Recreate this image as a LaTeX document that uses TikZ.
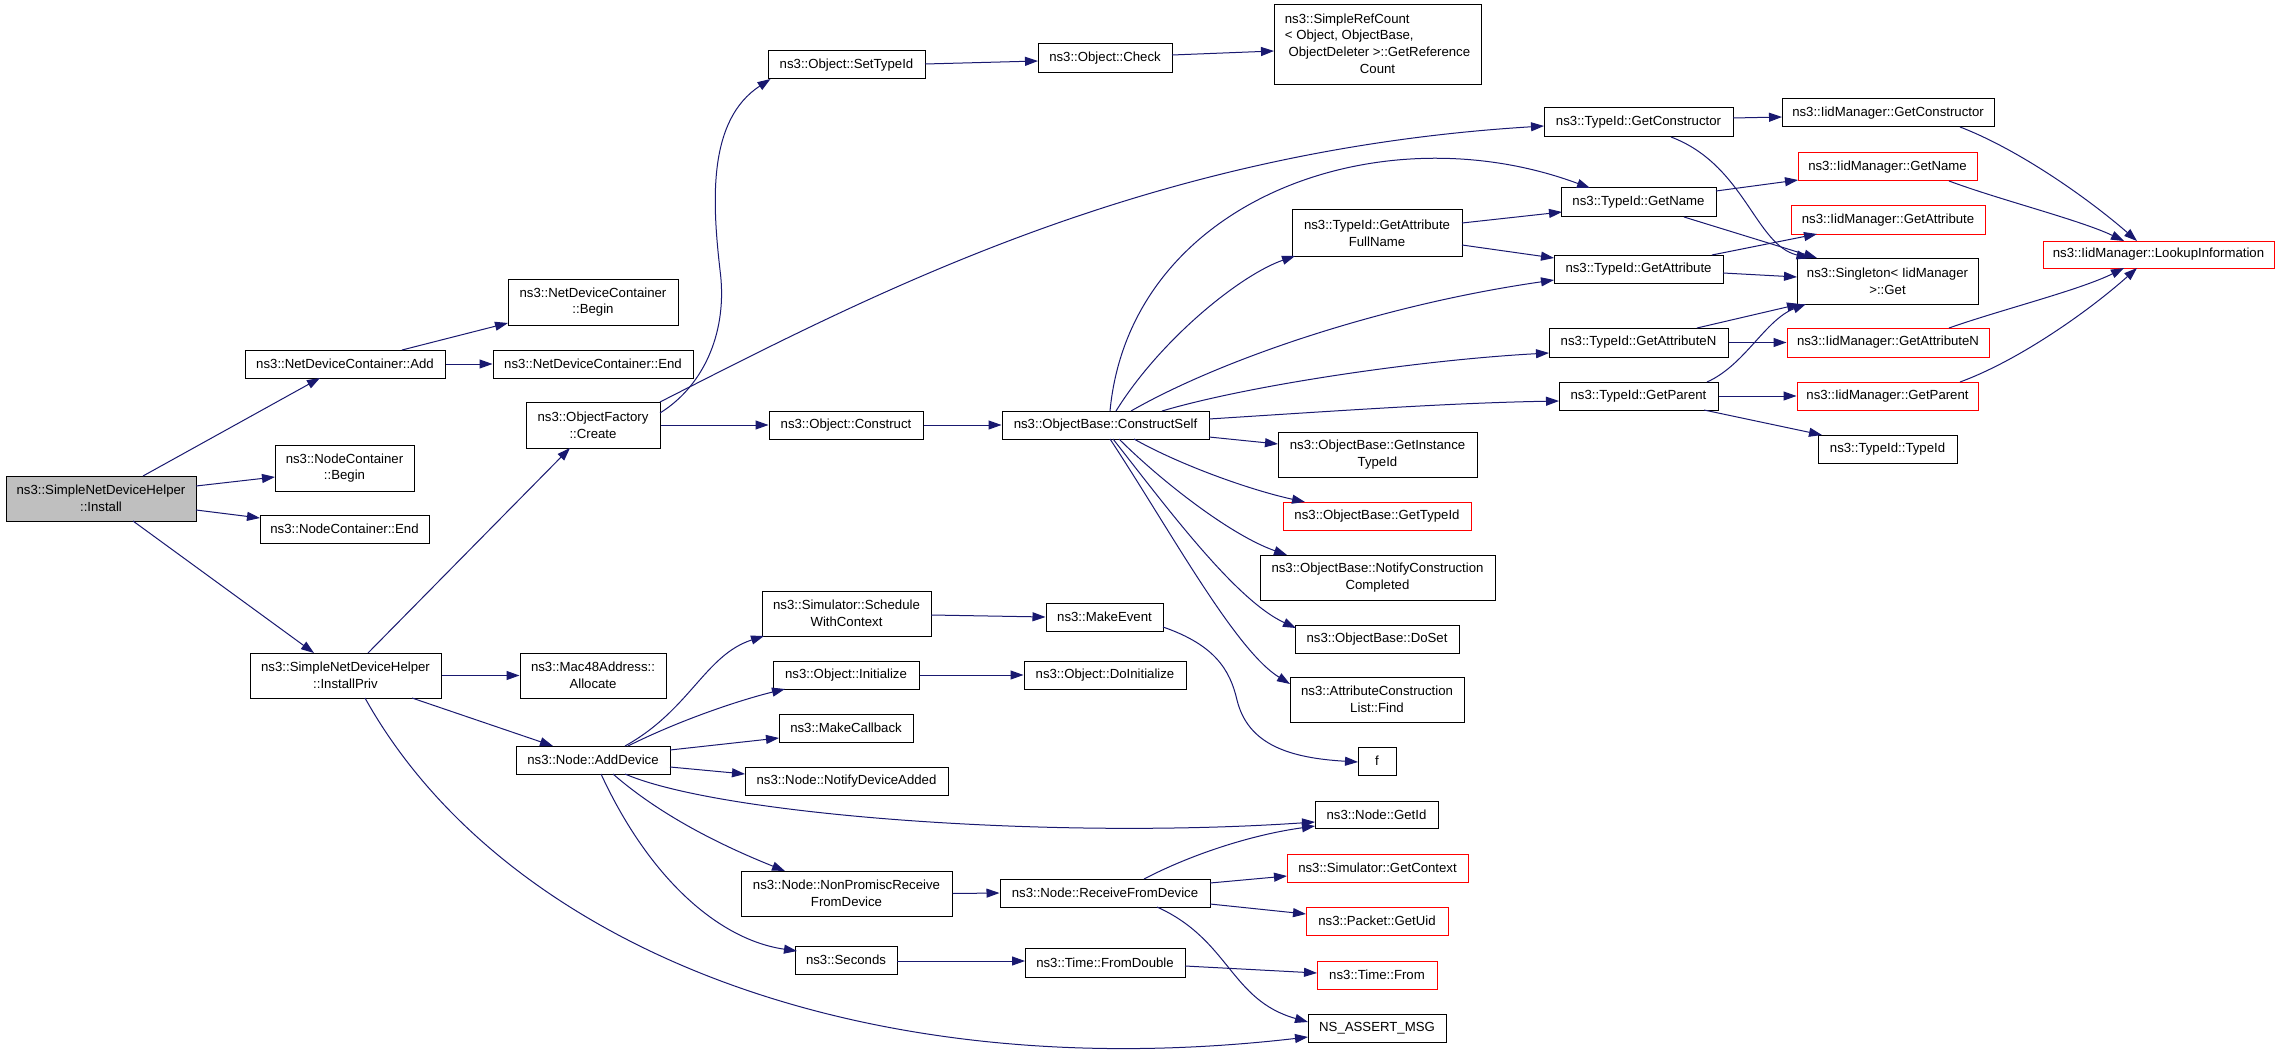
\documentclass[tikz,border=0pt]{standalone}
\usepackage{fontspec}
\setmainfont{Liberation Sans}
\usetikzlibrary{arrows.meta}
\definecolor{edgec}{HTML}{191970}
\definecolor{redc}{HTML}{FF0000}
\definecolor{fillg}{HTML}{BFBFBF}
\begin{document}
\begin{tikzpicture}[x=1pt,y=-1pt,
  fn/.style={draw=black, line width=1pt, fill=white, inner sep=0pt, align=center,
     font={\fontsize{13.2}{16.7}\selectfont}},
  rn/.style={fn, draw=redc},
  sz/.style 2 args={minimum width=#1pt, minimum height=#2pt},
  e/.style={draw=edgec, line width=1pt, -{Triangle[length=13pt,width=9pt]}}]
\fill[white] (0,0) rectangle (2280,1051);
\useasboundingbox (0,0) rectangle (2280,1051);

% column 1-3
\node[fn,fill=fillg,sz={190}{45}] (install) at (101,498.5) {ns3::SimpleNetDeviceHelper\\::Install};
\node[fn,sz={200}{28}] (add) at (345,364) {ns3::NetDeviceContainer::Add};
\node[fn,sz={170}{46}] (ndcbegin) at (593,302) {ns3::NetDeviceContainer\\::Begin};
\node[fn,sz={200}{28}] (ndcend) at (593,364) {ns3::NetDeviceContainer::End};
\node[fn,sz={134}{46}] (create) at (593,425) {ns3::ObjectFactory\\::Create};
\node[fn,sz={139}{46}] (ncbegin) at (344.5,468) {ns3::NodeContainer\\::Begin};
\node[fn,sz={169}{28}] (ncend) at (344.5,529) {ns3::NodeContainer::End};
\node[fn,sz={191}{45}] (installpriv) at (345.5,675.5) {ns3::SimpleNetDeviceHelper\\::InstallPriv};
\node[fn,sz={146}{45}] (mac) at (593,675.5) {ns3::Mac48Address::\\Allocate};
\node[fn,sz={154}{28}] (adddevice) at (593,760) {ns3::Node::AddDevice};
% column 4-6
\node[fn,sz={157}{28}] (settypeid) at (846.5,65) {ns3::Object::SetTypeId};
\node[fn,sz={134}{29}] (check) at (1105,58.5) {ns3::Object::Check};
\node[fn,sz={207}{80}] (simplerefcount) at (1377.5,45)
  {\begin{tabular}{@{}l@{}}ns3::SimpleRefCount\\< Object, ObjectBase,\\\ ObjectDeleter >::GetReference\\\multicolumn{1}{@{}c@{}}{Count}\end{tabular}};
\node[fn,sz={154}{28}] (construct) at (846,425) {ns3::Object::Construct};
\node[fn,sz={207}{28}] (constructself) at (1105.5,425) {ns3::ObjectBase::ConstructSelf};
\node[fn,sz={170}{46}] (fullname) at (1377,233) {ns3::TypeId::GetAttribute\\FullName};
\node[fn,sz={199}{45}] (getinstancetypeid) at (1377.5,454.5) {ns3::ObjectBase::GetInstance\\TypeId};
\node[rn,sz={188}{28}] (gettypeid) at (1377,516) {ns3::ObjectBase::GetTypeId};
\node[fn,sz={235}{45}] (notifyconstr) at (1377.5,577.5) {ns3::ObjectBase::NotifyConstruction\\Completed};
\node[fn,sz={164}{28}] (doset) at (1377,639) {ns3::ObjectBase::DoSet};
\node[fn,sz={174}{45}] (find) at (1377,699.5) {ns3::AttributeConstruction\\List::Find};
\node[fn,sz={169}{45}] (schedule) at (846.5,613.5) {ns3::Simulator::Schedule\\WithContext};
\node[fn,sz={117}{28}] (makeevent) at (1104.5,617) {ns3::MakeEvent};
\node[fn,sz={146}{28}] (initialize) at (846,675) {ns3::Object::Initialize};
\node[fn,sz={162}{28}] (doinitialize) at (1105,675) {ns3::Object::DoInitialize};
\node[fn,sz={134}{28}] (makecallback) at (846,728) {ns3::MakeCallback};
\node[fn,sz={38}{28}] (f) at (1377,761) {f};
\node[fn,sz={203}{28}] (notifyadded) at (846.5,781) {ns3::Node::NotifyDeviceAdded};
\node[fn,sz={123}{27}] (getid) at (1376.5,814.5) {ns3::Node::GetId};
\node[fn,sz={211}{45}] (nonpromisc) at (846.5,893.5) {ns3::Node::NonPromiscReceive\\FromDevice};
\node[fn,sz={210}{28}] (receive) at (1105,893) {ns3::Node::ReceiveFromDevice};
\node[rn,sz={181}{28}] (getcontext) at (1377.5,868) {ns3::Simulator::GetContext};
\node[rn,sz={142}{28}] (getuid) at (1377,921) {ns3::Packet::GetUid};
\node[fn,sz={102}{28}] (seconds) at (846,960) {ns3::Seconds};
\node[fn,sz={160}{29}] (fromdouble) at (1105,962.5) {ns3::Time::FromDouble};
\node[rn,sz={120}{28}] (timefrom) at (1377,975) {ns3::Time::From};
\node[fn,sz={138}{28}] (assert) at (1377,1028) {NS\_ASSERT\_MSG};
% column 7-9
\node[fn,sz={189}{29}] (tgetconstructor) at (1638.5,122.5) {ns3::TypeId::GetConstructor};
\node[fn,sz={212}{28}] (igetconstructor) at (1888,113) {ns3::IidManager::GetConstructor};
\node[rn,sz={179}{28}] (igetname) at (1887.5,167) {ns3::IidManager::GetName};
\node[fn,sz={155}{29}] (tgetname) at (1638.5,202.5) {ns3::TypeId::GetName};
\node[rn,sz={194}{28}] (igetattribute) at (1888,220) {ns3::IidManager::GetAttribute};
\node[rn,sz={231}{27}] (lookup) at (2158.5,254.5) {ns3::IidManager::LookupInformation};
\node[fn,sz={169}{28}] (tgetattribute) at (1638.5,269) {ns3::TypeId::GetAttribute};
\node[fn,sz={181}{46}] (singleton) at (1887.5,281) {ns3::Singleton< IidManager\\>::Get};
\node[fn,sz={179}{29}] (tgetattributen) at (1638.5,342.5) {ns3::TypeId::GetAttributeN};
\node[rn,sz={202}{29}] (igetattributen) at (1888,342.5) {ns3::IidManager::GetAttributeN};
\node[fn,sz={159}{28}] (tgetparent) at (1638.5,396) {ns3::TypeId::GetParent};
\node[rn,sz={181}{28}] (igetparent) at (1887.5,396) {ns3::IidManager::GetParent};
\node[fn,sz={139}{28}] (typeidtypeid) at (1887.5,449) {ns3::TypeId::TypeId};

% edges
\draw[e] ([shift={(42,-22.5)}]install.center) -- ([shift={(-25,14)}]add.center);
\draw[e] ([shift={(95,-12.5)}]install.center) -- ([shift={(-69.5,9)}]ncbegin.center);
\draw[e] ([shift={(95,11.5)}]install.center) -- ([shift={(-84.5,-11)}]ncend.center);
\draw[e] ([shift={(32,22.5)}]install.center) -- ([shift={(-31.5,-22.5)}]installpriv.center);
\draw[e] ([shift={(57,-14)}]add.center) -- ([shift={(-85,21)}]ndcbegin.center);
\draw[e] (add.east) -- (ndcend.west);
\draw[e] ([shift={(22.5,-22.5)}]installpriv.center) -- ([shift={(-23,23)}]create.center);
\draw[e] (installpriv.east) -- (mac.west);
\draw[e] ([shift={(66.5,22.5)}]installpriv.center) -- ([shift={(-40,-14)}]adddevice.center);
\draw[e] ([shift={(19.5,22.5)}]installpriv.center) .. controls (500,940) and (850,1090) .. ([shift={(-69,9)}]assert.center);
\draw[e] ([shift={(67,-12)}]create.center) .. controls (705,385) and (728,330) .. (720,270) .. controls (712,200) and (708,120) .. ([shift={(-76,14)}]settypeid.center);
\draw[e] ([shift={(67,-23)}]create.center) .. controls (880,290) and (1150,150) .. ([shift={(-94.5,3.5)}]tgetconstructor.center);
\draw[e] (create.east) -- (construct.west);
\draw[e] ([shift={(78.5,-1)}]settypeid.center) -- ([shift={(-67,2.5)}]check.center);
\draw[e] ([shift={(67,-3.5)}]check.center) -- ([shift={(-103.5,6)}]simplerefcount.center);
\draw[e] (construct.east) -- (constructself.west);
\draw[e] ([shift={(10.5,-14)}]constructself.center) .. controls (1160,340) and (1240,275) .. ([shift={(-82,23)}]fullname.center);
\draw[e] ([shift={(4.5,-14)}]constructself.center) .. controls (1130,200) and (1380,110) .. ([shift={(-48.5,-14.5)}]tgetname.center);
\draw[e] ([shift={(25.5,-14)}]constructself.center) .. controls (1220,360) and (1380,305) .. ([shift={(-84.5,11)}]tgetattribute.center);
\draw[e] ([shift={(56.5,-14)}]constructself.center) .. controls (1250,385) and (1420,360) .. ([shift={(-89.5,10.5)}]tgetattributen.center);
\draw[e] ([shift={(103.5,-6)}]constructself.center) .. controls (1350,410) and (1450,403) .. ([shift={(-79.5,5)}]tgetparent.center);
\draw[e] ([shift={(103.5,12)}]constructself.center) -- ([shift={(-99.5,-10.5)}]getinstancetypeid.center);
\draw[e] ([shift={(28.5,14)}]constructself.center) .. controls (1180,465) and (1250,490) .. ([shift={(-72,-14)}]gettypeid.center);
\draw[e] ([shift={(13.5,14)}]constructself.center) .. controls (1160,480) and (1230,535) .. ([shift={(-90.5,-22.5)}]notifyconstr.center);
\draw[e] ([shift={(7.5,14)}]constructself.center) .. controls (1165,505) and (1235,600) .. ([shift={(-81,-11)}]doset.center);
\draw[e] ([shift={(4.5,14)}]constructself.center) .. controls (1170,530) and (1235,650) .. ([shift={(-87,-15.5)}]find.center);
\draw[e] ([shift={(85,-10)}]fullname.center) -- ([shift={(-76.5,9.5)}]tgetname.center);
\draw[e] ([shift={(85,12)}]fullname.center) -- ([shift={(-84.5,-11)}]tgetattribute.center);
\draw[e] ([shift={(94.5,-4.5)}]tgetconstructor.center) -- ([shift={(-106,4)}]igetconstructor.center);
\draw[e] ([shift={(32.5,14.5)}]tgetconstructor.center) .. controls (1745,165) and (1755,245) .. ([shift={(-78,-23)}]singleton.center);
\draw[e] ([shift={(77.5,-11.5)}]tgetname.center) -- ([shift={(-89.5,13)}]igetname.center);
\draw[e] ([shift={(45.5,14.5)}]tgetname.center) -- ([shift={(-70.5,-23)}]singleton.center);
\draw[e] ([shift={(73.5,-14)}]tgetattribute.center) -- ([shift={(-71,14)}]igetattribute.center);
\draw[e] ([shift={(84.5,4)}]tgetattribute.center) -- ([shift={(-90.5,-4)}]singleton.center);
\draw[e] ([shift={(58.5,-14.5)}]tgetattributen.center) -- ([shift={(-87.5,23)}]singleton.center);
\draw[e] (tgetattributen.east) -- (igetattributen.west);
\draw[e] ([shift={(68.5,-14)}]tgetparent.center) .. controls (1745,365) and (1765,320) .. ([shift={(-81.5,23)}]singleton.center);
\draw[e] (tgetparent.east) -- (igetparent.west);
\draw[e] ([shift={(65.5,14)}]tgetparent.center) -- ([shift={(-65.5,-14)}]typeidtypeid.center);
\draw[e] ([shift={(72,14)}]igetconstructor.center) .. controls (2020,150) and (2090,200) .. ([shift={(-21.5,-13.5)}]lookup.center);
\draw[e] ([shift={(61.5,14)}]igetname.center) .. controls (2000,200) and (2080,220) .. ([shift={(-34.5,-13.5)}]lookup.center);
\draw[e] ([shift={(61,-14.5)}]igetattributen.center) .. controls (2000,310) and (2080,290) .. ([shift={(-34.5,13.5)}]lookup.center);
\draw[e] ([shift={(72.5,-14)}]igetparent.center) .. controls (2020,360) and (2090,310) .. ([shift={(-21.5,13.5)}]lookup.center);
\draw[e] ([shift={(32,-14)}]adddevice.center) .. controls (690,710) and (705,655) .. ([shift={(-82.5,22.5)}]schedule.center);
\draw[e] ([shift={(35,-14)}]adddevice.center) .. controls (680,720) and (740,700) .. ([shift={(-61,14)}]initialize.center);
\draw[e] ([shift={(77,-10)}]adddevice.center) -- ([shift={(-67,10)}]makecallback.center);
\draw[e] ([shift={(77,7)}]adddevice.center) -- ([shift={(-101.5,-7)}]notifyadded.center);
\draw[e] ([shift={(32,14)}]adddevice.center) .. controls (720,815) and (1050,840) .. ([shift={(-61.5,7.5)}]getid.center);
\draw[e] ([shift={(20,14)}]adddevice.center) .. controls (660,815) and (720,845) .. ([shift={(-61.5,-22.5)}]nonpromisc.center);
\draw[e] ([shift={(8,14)}]adddevice.center) .. controls (650,880) and (720,940) .. ([shift={(-49,-9)}]seconds.center);
\draw[e] ([shift={(84.5,1.5)}]schedule.center) -- (makeevent.west);
\draw[e] ([shift={(58.5,10)}]makeevent.center) .. controls (1215,645) and (1230,670) .. (1237,700) .. controls (1248,745) and (1290,758) .. ([shift={(-19,1)}]f.center);
\draw[e] (initialize.east) -- (doinitialize.west);
\draw[e] (nonpromisc.east) -- (receive.west);
\draw[e] ([shift={(39,-14)}]receive.center) .. controls (1190,855) and (1250,835) .. ([shift={(-61.5,11.5)}]getid.center);
\draw[e] ([shift={(105,-10)}]receive.center) -- ([shift={(-90.5,8)}]getcontext.center);
\draw[e] ([shift={(105,11)}]receive.center) -- ([shift={(-71,-7)}]getuid.center);
\draw[e] ([shift={(52,14)}]receive.center) .. controls (1230,940) and (1230,1000) .. ([shift={(-69,-6)}]assert.center);
\draw[e] ([shift={(51,1)}]seconds.center) -- ([shift={(-80,-1.5)}]fromdouble.center);
\draw[e] ([shift={(80,3.5)}]fromdouble.center) -- ([shift={(-60,-2)}]timefrom.center);
\end{tikzpicture}
\end{document}
